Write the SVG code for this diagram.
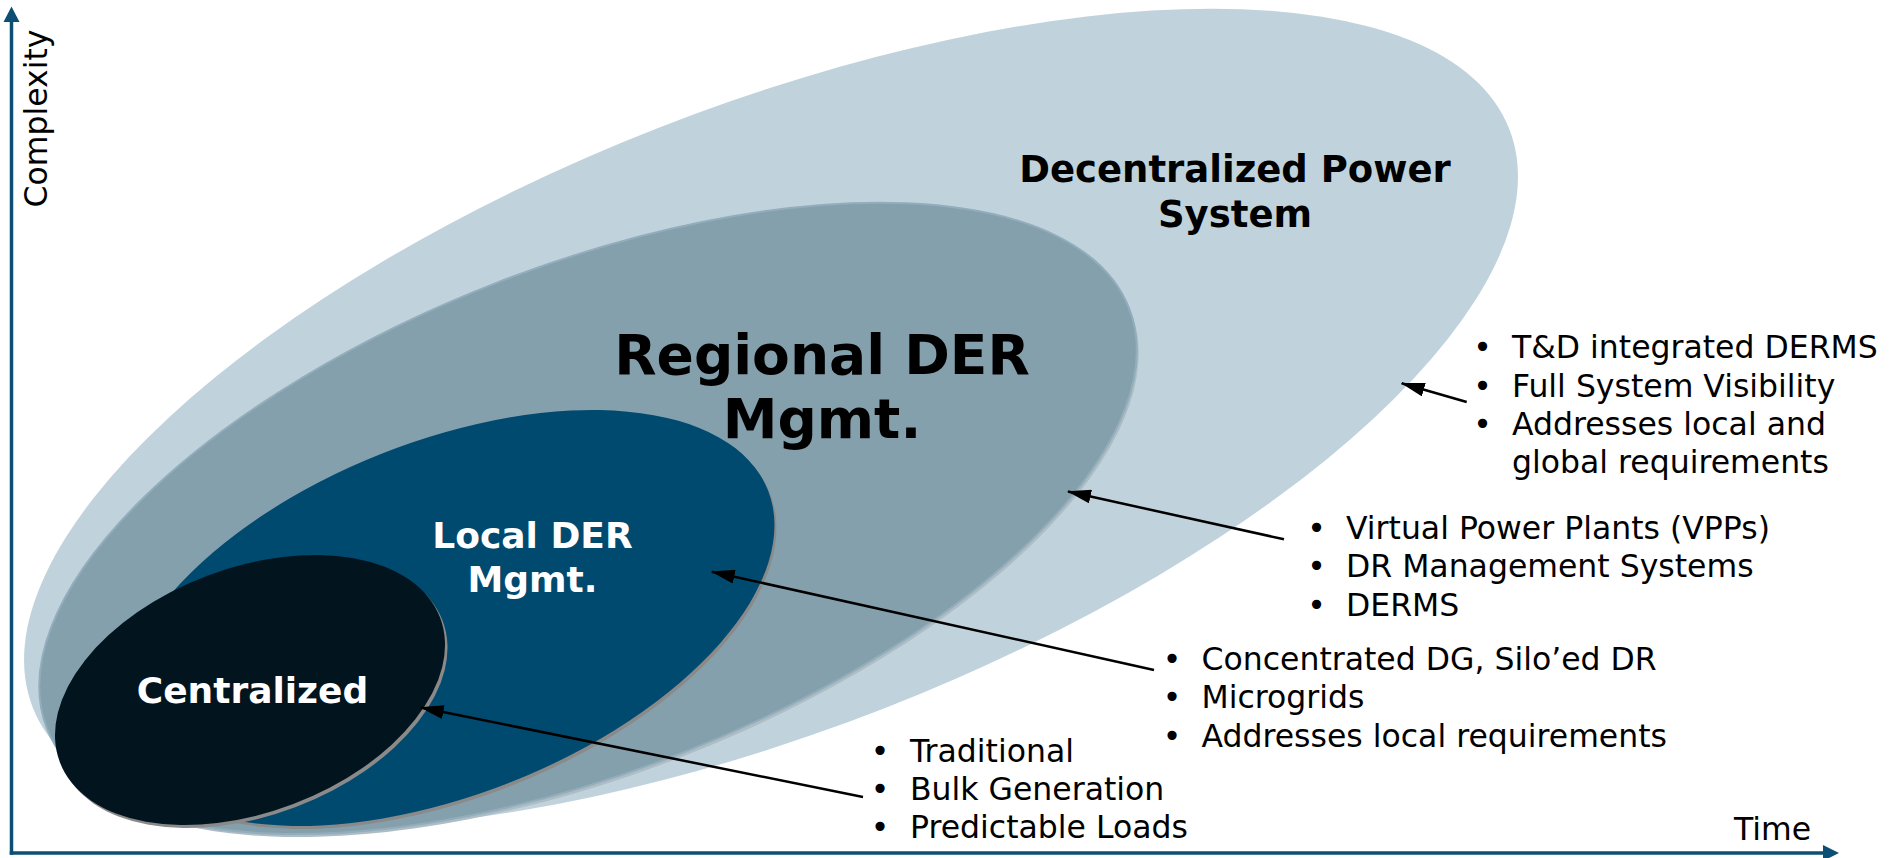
<svg xmlns="http://www.w3.org/2000/svg" width="1889" height="858" viewBox="0 0 1889 858">
<defs>
<style>
.title{font-family:"DejaVu Sans","Liberation Sans",sans-serif;font-weight:bold;text-anchor:middle}
.lbl{font-family:"DejaVu Sans","Liberation Sans",sans-serif;font-size:31.5px;fill:#000}
.bul{font-family:"DejaVu Sans","Liberation Sans",sans-serif;font-size:31.5px;fill:#000;text-anchor:middle}
.conn{stroke:#000;stroke-width:2.5;fill:none;marker-end:url(#ah)}
.axis{stroke:#0c4f75;stroke-width:3.5;fill:none}
.shadow{fill:#8a8a8a}
</style>
<marker id="ah" markerUnits="userSpaceOnUse" markerWidth="24" markerHeight="14" viewBox="0 0 24 14" refX="23" refY="7" orient="auto"><path d="M0,0 L24,7 L0,14 z" fill="#000"/></marker>
</defs>
<rect width="1889" height="858" fill="#fff"/>

<g id="decentralized">
<ellipse cx="771" cy="418.2" rx="792.9" ry="311.4" transform="rotate(-21.39 771 418.2)" fill="#c0d3dd"/>
<text class="title" font-size="37" x="1235" y="181.7">Decentralized Power</text>
<text class="title" font-size="37" x="1235" y="226.7">System</text>
</g>

<g id="regional">
<ellipse cx="590" cy="521.4" rx="580.4" ry="252.7" transform="rotate(-21.23 590 521.4)" fill="#aebcc4"/>
<ellipse cx="588" cy="518.4" rx="580.4" ry="252.7" transform="rotate(-21.23 588 518.4)" fill="#84a0ad" stroke="#92adbc" stroke-width="2"/>
<text class="title" font-size="55" x="822" y="374">Regional DER</text>
<text class="title" font-size="55" x="822" y="438">Mgmt.</text>
</g>

<g id="local">
<ellipse class="shadow" cx="448" cy="621" rx="346.4" ry="176.5" transform="rotate(-21.65 448 621)"/>
<ellipse cx="446" cy="618" rx="346.4" ry="176.5" transform="rotate(-21.65 446 618)" fill="#004a70"/>
<text class="title" font-size="36" fill="#fff" x="532.5" y="548.3">Local DER</text>
<text class="title" font-size="36" fill="#fff" x="532.5" y="591.7">Mgmt.</text>
</g>

<g id="centralized">
<ellipse class="shadow" cx="252.5" cy="693" rx="203.4" ry="122" transform="rotate(-20.8 252.5 693)"/>
<ellipse cx="250" cy="690" rx="203.4" ry="122" transform="rotate(-20.8 250 690)" fill="#02151f"/>
<text class="title" font-size="36" fill="#fff" x="252.5" y="703">Centralized</text>
</g>

<g id="notes-decentralized">
<text class="bul" x="1482.5" y="358.3">•</text>
<text class="bul" x="1482.5" y="396.7">•</text>
<text class="bul" x="1482.5" y="435">•</text>
<text class="lbl" x="1512" y="358.3">T&amp;D integrated DERMS</text>
<text class="lbl" x="1512" y="396.7">Full System Visibility</text>
<text class="lbl" x="1512" y="435">Addresses local and</text>
<text class="lbl" x="1512" y="473.3">global requirements</text>
</g>

<g id="notes-regional">
<text class="bul" x="1316.5" y="539.3">•</text>
<text class="bul" x="1316.5" y="577.3">•</text>
<text class="bul" x="1316.5" y="615.6">•</text>
<text class="lbl" x="1346" y="539.3">Virtual Power Plants (VPPs)</text>
<text class="lbl" x="1346" y="577.3">DR Management Systems</text>
<text class="lbl" x="1346" y="615.6">DERMS</text>
</g>

<g id="notes-local">
<text class="bul" x="1172" y="670">•</text>
<text class="bul" x="1172" y="708.3">•</text>
<text class="bul" x="1172" y="746.7">•</text>
<text class="lbl" x="1201.5" y="670">Concentrated DG, Silo’ed DR</text>
<text class="lbl" x="1201.5" y="708.3">Microgrids</text>
<text class="lbl" x="1201.5" y="746.7">Addresses local requirements</text>
</g>

<g id="notes-centralized">
<text class="bul" x="880" y="761.7">•</text>
<text class="bul" x="880" y="800">•</text>
<text class="bul" x="880" y="838.3">•</text>
<text class="lbl" x="910" y="761.7">Traditional</text>
<text class="lbl" x="910" y="800">Bulk Generation</text>
<text class="lbl" x="910" y="838.3">Predictable Loads</text>
</g>

<g id="connectors">
<line class="conn" x1="1466.7" y1="402" x2="1401.7" y2="383.3"/>
<line class="conn" x1="1284" y1="539.3" x2="1068" y2="491.5"/>
<line class="conn" x1="1154" y1="670" x2="711.8" y2="571.7"/>
<line class="conn" x1="863" y1="797" x2="420.8" y2="707.5"/>
</g>

<g id="axes">
<line class="axis" x1="11.5" y1="20" x2="11.5" y2="854.75"/>
<path d="M11.5,6.5 L3.5,22 L19.5,22 z" fill="#0c4f75"/>
<line class="axis" x1="9.75" y1="853" x2="1825" y2="853"/>
<path d="M1839,853 L1823,845 L1823,861 z" fill="#0c4f75"/>
<text class="lbl" transform="translate(47,118.5) rotate(-90)" text-anchor="middle">Complexity</text>
<text class="lbl" x="1734" y="840">Time</text>
</g>
</svg>
